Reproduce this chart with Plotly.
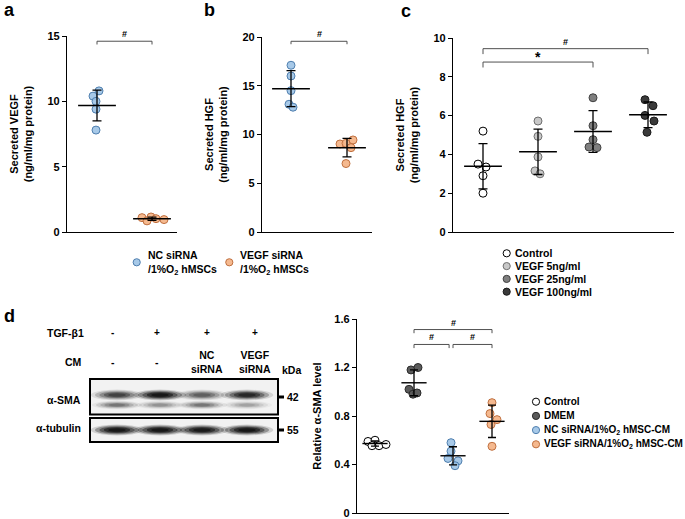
import plotly.graph_objects as go
import numpy as np

W, H = 685, 519
def X(px): return px / W
def Y(py): return 1 - py / H

FONT = "Liberation Sans"

# ---------------- data ----------------
# panel a: secreted VEGF
a_labels = ["NC siRNA<br>/1%O<sub>2</sub> hMSCs", "VEGF siRNA<br>/1%O<sub>2</sub> hMSCs"]
a_nc = [10.8, 10.4, 10.0, 9.4, 7.8]
a_vegf = [1.1, 0.85, 1.15, 1.02, 0.95]
# panel b: secreted HGF
b_nc = [17.1, 16.0, 14.5, 13.1, 12.8]
b_vegf = [9.03, 9.1, 9.44, 8.65, 7.02]
# panel c: secreted HGF with VEGF dose
c_labels = ["Control", "VEGF 5ng/ml", "VEGF 25ng/ml", "VEGF 100ng/ml"]
c_ctrl = [5.2, 3.5, 3.35, 2.9, 2.0]
c_v5 = [5.72, 4.93, 3.87, 3.15, 3.0]
c_v25 = [6.92, 5.48, 4.76, 4.38, 4.35]
c_v100 = [6.82, 6.51, 6.01, 5.72, 5.14]
# panel d: relative alpha-SMA level
d_labels = ["Control", "DMEM", "NC siRNA/1%O<sub>2</sub> hMSC-CM", "VEGF siRNA/1%O<sub>2</sub> hMSC-CM"]
d_ctrl = [0.59, 0.60, 0.555, 0.565, 0.555]
d_dmem = [1.18, 1.20, 1.02, 0.98, 0.99]
d_nc = [0.58, 0.51, 0.45, 0.43, 0.39]
d_vegf = [0.91, 0.82, 0.77, 0.73, 0.55]
# blot lane labels and band darkness
blot_tgf = ["-", "+", "+", "+"]
blot_cm = ["-", "-", "NC<br>siRNA", "VEGF<br>siRNA"]
sma_band = [0.6, 0.95, 0.45, 0.8]
sma_lower = [0.35, 0.25, 0.35, 0.2]
tub_band = [0.95, 0.95, 0.92, 0.95]

# ---------------- styles ----------------
BLUE = dict(color="rgba(157,195,230,0.9)", line=dict(color="#4F7FAF", width=1))
ORANGE = dict(color="rgba(244,177,131,0.9)", line=dict(color="#C07040", width=1))
WHITE = dict(color="white", line=dict(color="black", width=1))
LGRAY = dict(color="#C8C8C8", line=dict(color="#6E6E6E", width=1))
MGRAY = dict(color="#7F7F7F", line=dict(color="#404040", width=1))
DGRAY = dict(color="#3A3A3A", line=dict(color="#1A1A1A", width=1))
DMEMC = dict(color="#5A5A5A", line=dict(color="#2A2A2A", width=1))

fig = go.Figure()

def add_group(vals, xpos, offsets_px, ppu, style, xa, ya, mean_len, cap):
    xs = [xpos + o / ppu for o in offsets_px]
    fig.add_trace(go.Scatter(x=xs, y=vals, mode="markers", xaxis=xa, yaxis=ya,
                             marker=dict(size=8, color=style["color"], line=style["line"]),
                             showlegend=False, hoverinfo="y"))
    m = float(np.mean(vals)); sd = float(np.std(vals, ddof=1))
    fig.add_trace(go.Scatter(x=[xpos], y=[m], mode="markers", xaxis=xa, yaxis=ya,
                             marker=dict(symbol="line-ew", size=mean_len,
                                         line=dict(width=1.4, color="black")),
                             error_y=dict(type="data", array=[sd], color="black",
                                          thickness=1.3, width=cap),
                             showlegend=False, hoverinfo="y"))

# panel a (x units: 55 px)
add_group(a_nc, 1, [2, -4, -1, -1, -1], 55, BLUE, "x", "y", 27, 4.5)
add_group(a_vegf, 2, [-10, -5, -1, 4, 12], 55, ORANGE, "x", "y", 27, 4.5)
# panel b
add_group(b_nc, 1, [0, 0, 0, -2, 2], 56, BLUE, "x2", "y2", 27, 4.5)
add_group(b_vegf, 2, [-7, -1, 6, 4, -1], 56, ORANGE, "x2", "y2", 27, 4.5)
# panel c
add_group(c_ctrl, 1, [0, -5, 3, 0, 0], 55, WHITE, "x3", "y3", 27, 4.5)
add_group(c_v5, 2, [0, 0, 0, -3, 2], 55, LGRAY, "x3", "y3", 27, 4.5)
add_group(c_v25, 3, [0, 0, 0, -4, 4], 55, MGRAY, "x3", "y3", 27, 4.5)
add_group(c_v100, 4, [-3, 5, -3, 6, -1], 55, DGRAY, "x3", "y3", 27, 4.5)
# panel d
add_group(d_ctrl, 1, [-7, 0, 4, 11, -3], 39, WHITE, "x4", "y4", 18, 4)
add_group(d_dmem, 2, [-3, 4, -5, -1, 3], 39, DMEMC, "x4", "y4", 18, 4)
add_group(d_nc, 3, [-2, -2, -5, 5, 2], 39, BLUE, "x4", "y4", 18, 4)
add_group(d_vegf, 4, [0, -2, 5, -1, 0], 39, ORANGE, "x4", "y4", 18, 4)

tickfont = dict(family=FONT, size=11, color="black", weight="bold")
titlefont = dict(family=FONT, size=11, color="black", weight="bold")

def xax(l, r, rng, anchor):
    return dict(domain=[X(l), X(r)], range=rng, showline=True, linecolor="black",
                linewidth=1.3, ticks="", showticklabels=False, showgrid=False,
                zeroline=False, anchor=anchor, fixedrange=True, automargin=False)

def yax(t, b, rng, tv, tt, title, anchor, standoff):
    return dict(domain=[Y(b), Y(t)], range=rng, tickvals=tv, ticktext=tt,
                showline=True, linecolor="black", linewidth=1.3, ticks="outside",
                ticklen=4, tickwidth=1.3, tickcolor="black", tickfont=tickfont,
                title=dict(text=title, font=titlefont, standoff=standoff),
                showgrid=False, zeroline=False, anchor=anchor, fixedrange=True,
                automargin=False)

fig.update_layout(
    template="none",
    width=W, height=H, margin=dict(l=0, r=0, t=0, b=0, autoexpand=False),
    paper_bgcolor="white", plot_bgcolor="white", showlegend=False,
    xaxis=xax(67, 177, [1 - 30 / 55, 2 + 25 / 55], "y"),
    yaxis=yax(36, 232, [0, 15], [0, 5, 10, 15], ["0", "5", "10", "15"],
              "Secreted VEGF<br>(ng/ml/mg protein)", "x", 12),
    xaxis2=xax(262, 372, [1 - 29 / 56, 2 + 25 / 56], "y2"),
    yaxis2=yax(37, 232, [0, 20], [0, 5, 10, 15, 20], ["0", "5", "10", "15", "20"],
               "Secreted HGF<br>(ng/ml/mg protein)", "x2", 12),
    xaxis3=xax(453, 674, [1 - 30 / 55, 4 + 26 / 55], "y3"),
    yaxis3=yax(38, 232, [0, 10], [0, 2, 4, 6, 8, 10], ["0", "2", "4", "6", "8", "10"],
               "Secreted HGF<br>(ng/ml/mg protein)", "x3", 12),
    xaxis4=xax(357, 509, [1 - 18 / 39, 4 + 17 / 39], "y4"),
    yaxis4=yax(319, 513, [0, 1.6], [0, 0.4, 0.8, 1.2, 1.6], ["0", "0.4", "0.8", "1.2", "1.6"],
               "Relative α-SMA level", "x4", 10),
)

shapes = []
annots = []

def bracket(xa, ya, x0, x1, y, tick, label, lsize=9, dy=7):
    shapes.append(dict(type="path", xref=xa, yref=ya,
                       path=f"M{x0},{y - tick} L{x0},{y} L{x1},{y} L{x1},{y - tick}",
                       line=dict(color="#505050", width=1)))
    annots.append(dict(xref=xa, yref=ya, x=(x0 + x1) / 2, y=y, text=f"<b>{label}</b>",
                       showarrow=False, yshift=dy, font=dict(family=FONT, size=lsize, color="black")))

bracket("x", "y", 1, 2, 14.6, 0.25, "#")
bracket("x2", "y2", 1, 2, 19.56, 0.3, "#")
bracket("x3", "y3", 1, 4, 9.45, 0.28, "#", dy=7)
bracket("x3", "y3", 1, 3, 8.76, 0.28, "*", lsize=14, dy=5)
bracket("x4", "y4", 2, 4, 1.513, 0.03, "#")
bracket("x4", "y4", 2, 2.9, 1.39, 0.03, "#")
bracket("x4", "y4", 3.0, 4, 1.39, 0.03, "#")

def circ(cx, cy, style, r=3.6):
    shapes.append(dict(type="circle", xref="paper", yref="paper",
                       x0=X(cx - r), x1=X(cx + r), y0=Y(cy + r), y1=Y(cy - r),
                       fillcolor=style["color"], line=dict(color=style["line"]["color"], width=1)))

def txt(x, y, s, size=10, xanchor="left", bold=True, color="black"):
    annots.append(dict(xref="paper", yref="paper", x=X(x), y=Y(y),
                       text=(f"<b>{s}</b>" if bold else s), showarrow=False,
                       xanchor=xanchor, yanchor="middle", borderpad=0,
                       align=xanchor if xanchor != "center" else "center",
                       font=dict(family=FONT, size=size, color=color)))

# panel letters
txt(3, 10, "a", 18); txt(203, 10, "b", 18); txt(400, 11, "c", 18); txt(3, 316, "d", 18)

# legend a/b
circ(136.7, 262.3, BLUE)
txt(147, 262.5, a_labels[0], 10.5)
circ(229.3, 262.3, ORANGE)
txt(239, 262.5, a_labels[1], 10.5)

# legend c
for i, (lab, st) in enumerate(zip(c_labels, [WHITE, LGRAY, MGRAY, DGRAY])):
    yy = 253.3 + i * 12.8
    circ(506.7, yy, st)
    txt(514, yy, lab, 10.5)

# legend d
for i, (lab, st) in enumerate(zip(d_labels, [WHITE, DMEMC, BLUE, ORANGE])):
    yy = 401.7 + i * 14.2
    circ(536, yy, st)
    txt(543, yy, lab, 10)

# western blot labels
lane_txt = [113, 157, 207, 255]
txt(85, 333, "TGF-β1", 10.5, "right")
for lx, s in zip(lane_txt, blot_tgf):
    txt(lx, 332, s, 10, "center")
txt(83, 362, "CM", 10.5, "right")
for lx, s in zip(lane_txt, blot_cm):
    txt(lx, 362, s, 10.5, "center")
txt(281, 370, "kDa", 10.5)
txt(82, 400, "α-SMA", 10.5, "right")
txt(82, 428, "α-tubulin", 10.5, "right")
shapes.append(dict(type="line", xref="paper", yref="paper", x0=X(278), x1=X(284),
                   y0=Y(397), y1=Y(397), line=dict(color="black", width=3)))
txt(286, 397, "42", 10.5)
shapes.append(dict(type="line", xref="paper", yref="paper", x0=X(278), x1=X(284),
                   y0=Y(430), y1=Y(430), line=dict(color="black", width=3)))
txt(286, 430, "55", 10.5)

# blot background
shapes.append(dict(type="rect", xref="paper", yref="paper", x0=X(90), x1=X(278),
                   y0=Y(414.5), y1=Y(379), fillcolor="#F2F2F2", line=dict(width=0), layer="below"))
shapes.append(dict(type="rect", xref="paper", yref="paper", x0=X(90), x1=X(278),
                   y0=Y(442), y1=Y(418), fillcolor="#F2F2F2", line=dict(width=0), layer="below"))

# blot bands
lane_band = [117, 160, 202, 247]
def band(cx, cy, w, h, dark):
    for k, f in enumerate([1.2, 1.0, 0.8, 0.6, 0.4]):
        a = dark * [0.15, 0.3, 0.4, 0.5, 0.5][k]
        shapes.append(dict(type="circle", xref="paper", yref="paper",
                           x0=X(cx - w * f / 2), x1=X(cx + w * f / 2),
                           y0=Y(cy + h * f / 2), y1=Y(cy - h * f / 2),
                           fillcolor=f"rgba(0,0,0,{a:.3f})", line=dict(width=0)))
for lx, d1, d2 in zip(lane_band, sma_band, sma_lower):
    band(lx, 395, 44, 9, d1)
    band(lx, 405, 42, 7, d2)
for lx, d in zip(lane_band, tub_band):
    band(lx, 430, 44, 9, d)
shapes.append(dict(type="rect", xref="paper", yref="paper", x0=X(90), x1=X(278),
                   y0=Y(414.5), y1=Y(379), line=dict(color="black", width=2)))
shapes.append(dict(type="rect", xref="paper", yref="paper", x0=X(90), x1=X(278),
                   y0=Y(442), y1=Y(418), line=dict(color="black", width=2)))

fig.update_layout(shapes=shapes, annotations=annots)
fig.write_html("out.html", config={"displayModeBar": False},
               post_script="document.body.style.margin='0';document.body.style.padding='0';")
